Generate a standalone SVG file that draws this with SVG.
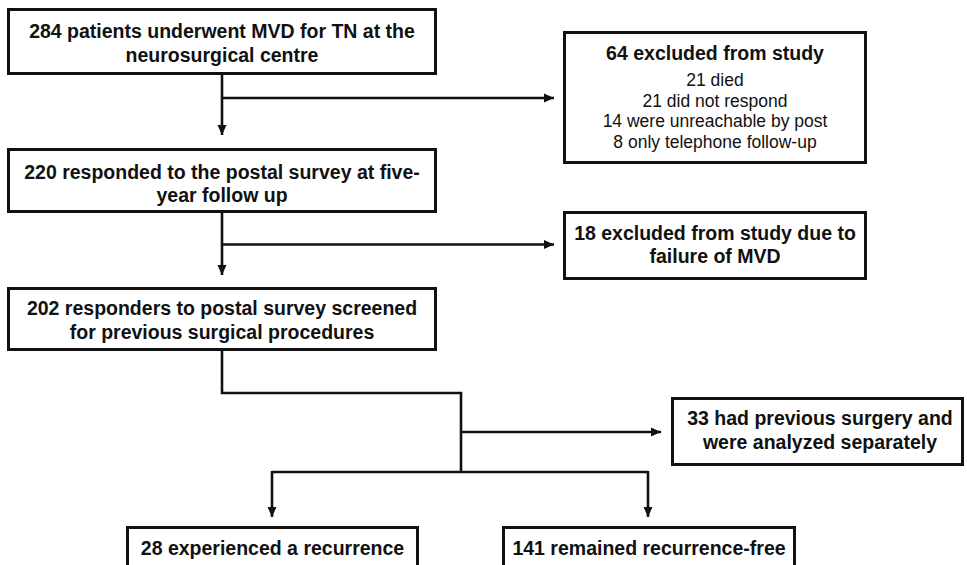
<svg xmlns="http://www.w3.org/2000/svg" width="967" height="565" viewBox="0 0 967 565">
<defs>
<style>
.box{fill:#fff;stroke:#111;stroke-width:3}
.t{font-family:"Liberation Sans",Arial,sans-serif;font-size:19.5px;font-weight:bold;fill:#111;text-anchor:middle}
.r{font-family:"Liberation Sans",Arial,sans-serif;font-size:17.5px;fill:#111;text-anchor:middle}
.c{fill:none;stroke:#111;stroke-width:2.6}
</style>
<marker id="ah" markerUnits="userSpaceOnUse" markerWidth="10" markerHeight="10" viewBox="0 0 10 10" refX="10" refY="5" orient="auto">
<path d="M0,0.5 L10,5 L0,9.5 Z" fill="#111"/>
</marker>
</defs>
<rect width="967" height="565" fill="#fff"/>
<g id="connectors">
<path class="c" d="M222,74 V135" marker-end="url(#ah)"/>
<path class="c" d="M222,98 H554" marker-end="url(#ah)"/>
<path class="c" d="M222,212 V275" marker-end="url(#ah)"/>
<path class="c" d="M222,244.5 H554" marker-end="url(#ah)"/>
<path class="c" d="M222,350 V393 H461 V472"/>
<path class="c" d="M461,432 H661" marker-end="url(#ah)"/>
<path class="c" d="M272,472 H648"/>
<path class="c" d="M272,471 V517" marker-end="url(#ah)"/>
<path class="c" d="M648,471 V517" marker-end="url(#ah)"/>
</g>
<g id="n1">
<rect class="box" x="8.5" y="9.5" width="427" height="64"/>
<text class="t" x="222" y="37.5">284 patients underwent MVD for TN at the</text>
<text class="t" x="222" y="62">neurosurgical centre</text>
</g>
<g id="n2">
<rect class="box" x="564.5" y="32.5" width="301" height="130"/>
<text class="t" x="715" y="60">64 excluded from study</text>
<text class="r" x="715" y="86">21 died</text>
<text class="r" x="715" y="106.5">21 did not respond</text>
<text class="r" x="715" y="127">14 were unreachable by post</text>
<text class="r" x="715" y="147.5">8 only telephone follow-up</text>
</g>
<g id="n3">
<rect class="box" x="8.5" y="149.5" width="427" height="62"/>
<text class="t" x="222" y="178.5">220 responded to the postal survey at five-</text>
<text class="t" x="222" y="201.5">year follow up</text>
</g>
<g id="n4">
<rect class="box" x="564.5" y="212.5" width="301" height="66"/>
<text class="t" x="715" y="240">18 excluded from study due to</text>
<text class="t" x="715" y="263">failure of MVD</text>
</g>
<g id="n5">
<rect class="box" x="8.5" y="288.5" width="427" height="61"/>
<text class="t" x="222" y="315">202 responders to postal survey screened</text>
<text class="t" x="222" y="339">for previous surgical procedures</text>
</g>
<g id="n6">
<rect class="box" x="672.5" y="398.5" width="290" height="66"/>
<text class="t" x="820" y="425">33 had previous surgery and</text>
<text class="t" x="820" y="449">were analyzed separately</text>
</g>
<g id="n7">
<rect class="box" x="127.5" y="527.5" width="290" height="50"/>
<text class="t" x="272.5" y="555">28 experienced a recurrence</text>
</g>
<g id="n8">
<rect class="box" x="503.5" y="527.5" width="291" height="50"/>
<text class="t" x="649" y="555">141 remained recurrence-free</text>
</g>
</svg>
